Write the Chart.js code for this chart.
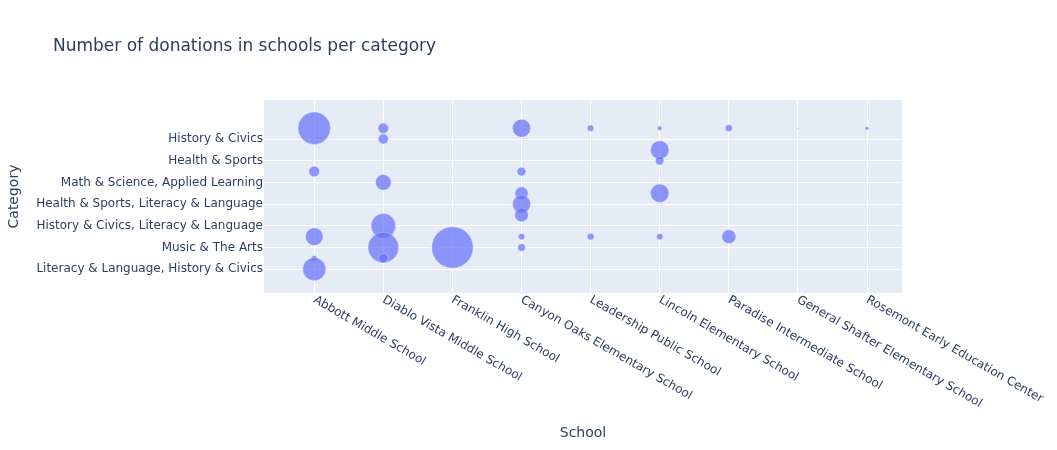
<!DOCTYPE html>
<html>
<head>
<meta charset="utf-8">
<script src="https://cdn.jsdelivr.net/npm/chart.js@4"></script>
<style>
  body { margin: 0; background: #fff; }
  #wrap { width: 1057px; height: 450px; }
</style>
</head>
<body>
<div id="wrap"><canvas id="bubbleChart" width="1057" height="450"></canvas></div>
<script>
// schools on the x axis (in plot order)
const schools = [
    'Abbott Middle School',
    'Diablo Vista Middle School',
    'Franklin High School',
    'Canyon Oaks Elementary School',
    'Leadership Public School',
    'Lincoln Elementary School',
    'Paradise Intermediate School',
    'General Shafter Elementary School',
    'Rosemont Early Education Center'
];

// categories on the y axis, bottom to top (only every other one gets a label)
const categories = [
    'Literacy & Language, History & Civics',
    'Literacy & Language',
    'Music & The Arts',
    'Applied Learning',
    'History & Civics, Literacy & Language',
    'Math & Science',
    'Health & Sports, Literacy & Language',
    'Literacy & Language, Math & Science',
    'Math & Science, Applied Learning',
    'Special Needs',
    'Health & Sports',
    'Applied Learning, Literacy & Language',
    'History & Civics',
    'Math & Science, Literacy & Language'
];

// one entry per bubble
const pointSchool   = [0, 1, 1, 3, 4, 5, 6, 7, 8, 5, 5, 0, 3, 1, 3, 5, 3, 3, 1, 0, 3, 4, 5, 6, 1, 2, 3, 0, 1, 0];
const pointCategory = [13, 13, 12, 13, 13, 13, 13, 13, 13, 11, 10, 9, 9, 8, 7, 7, 6, 5, 4, 3, 3, 3, 3, 3, 2, 2, 2, 1, 1, 0];
const donations     = [520, 54, 50, 161, 20, 10, 22, 1, 6, 168, 35, 56, 37, 121, 84, 168, 161, 92, 300, 154, 20, 22, 20, 97, 464, 850, 29, 16, 44, 262];

const maxRadius = 20.7;
const sizeScale = maxRadius / Math.sqrt(Math.max(...donations));

const textColor = '#2a3f5f';
const fontFamily = '"DejaVu Sans", Verdana, sans-serif';

const points = donations.map((d, i) => ({
    x: pointSchool[i],
    y: pointCategory[i],
    r: sizeScale * Math.sqrt(d)
}));

const plotlyLook = {
    id: 'plotlyLook',
    beforeDraw(chart) {
        const { ctx, chartArea } = chart;
        ctx.save();
        ctx.fillStyle = '#E5ECF6';
        ctx.fillRect(chartArea.left, chartArea.top, chartArea.right - chartArea.left, chartArea.bottom - chartArea.top);
        ctx.restore();
    },
    afterDraw(chart) {
        const { ctx, chartArea } = chart;
        const xScale = chart.scales.x;
        ctx.save();
        ctx.fillStyle = textColor;

        // title
        ctx.font = '17px ' + fontFamily;
        ctx.textAlign = 'left';
        ctx.textBaseline = 'alphabetic';
        ctx.fillText('Number of donations in schools per category', 53, 51);

        // x tick labels, tilted 30deg clockwise like plotly
        ctx.font = '12px ' + fontFamily;
        schools.forEach((name, i) => {
            const px = xScale.getPixelForValue(i);
            ctx.save();
            ctx.translate(px, chartArea.bottom + 6);
            ctx.rotate(Math.PI / 6);
            ctx.textAlign = 'left';
            ctx.textBaseline = 'middle';
            ctx.fillText(name, 0, 0);
            ctx.restore();
        });

        // axis titles
        ctx.font = '14px ' + fontFamily;
        ctx.textAlign = 'center';
        ctx.textBaseline = 'middle';
        ctx.fillText('School', (chartArea.left + chartArea.right) / 2, 433);
        ctx.save();
        ctx.translate(14, (chartArea.top + chartArea.bottom) / 2);
        ctx.rotate(-Math.PI / 2);
        ctx.fillText('Category', 0, 0);
        ctx.restore();

        ctx.restore();
    }
};

new Chart(document.getElementById('bubbleChart').getContext('2d'), {
    type: 'bubble',
    data: {
        datasets: [{
            label: 'donations',
            data: points,
            backgroundColor: 'rgba(99, 110, 250, 0.7)',
            borderColor: 'rgba(255, 255, 255, 0.6)',
            borderWidth: 0.5,
            hoverRadius: 0
        }]
    },
    options: {
        responsive: false,
        animation: false,
        events: [],
        layout: { padding: { left: 0, top: 100, right: 155, bottom: 157 } },
        plugins: {
            legend: { display: false },
            tooltip: { enabled: false }
        },
        scales: {
            x: {
                type: 'linear',
                min: -0.727,
                max: 8.506,
                afterBuildTicks: scale => { scale.ticks = schools.map((s, i) => ({ value: i })); },
                afterFit: scale => { scale.height = 0; },
                ticks: { display: false },
                grid: { color: '#ffffff', lineWidth: 1, drawTicks: false },
                border: { display: false }
            },
            y: {
                type: 'linear',
                min: -2.2,
                max: 15.6,
                afterBuildTicks: scale => {
                    scale.ticks = categories.map((c, i) => i).filter(i => i % 2 === 0).map(i => ({ value: i }));
                },
                afterFit: scale => { scale.width = 264; },
                ticks: {
                    callback: value => categories[value],
                    color: textColor,
                    font: { family: fontFamily, size: 12 },
                    padding: 1
                },
                grid: { color: '#ffffff', lineWidth: 1, drawTicks: false },
                border: { display: false }
            }
        }
    },
    plugins: [plotlyLook]
});
</script>
</body>
</html>
